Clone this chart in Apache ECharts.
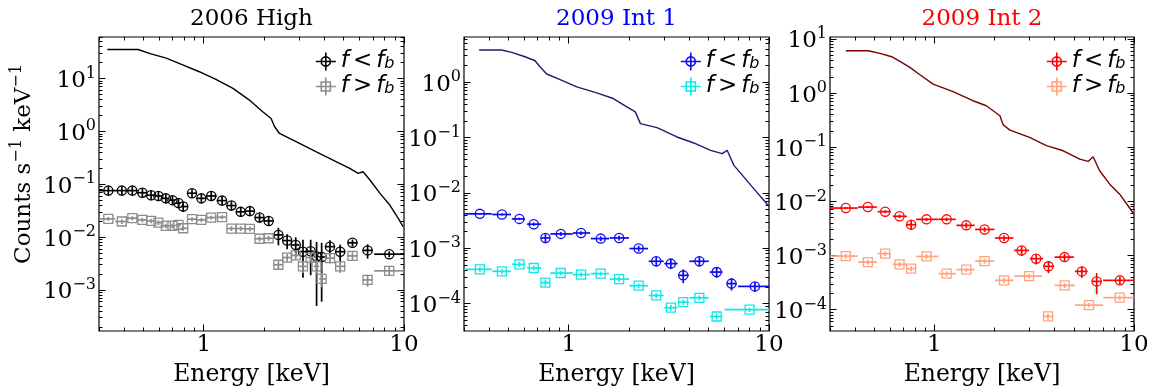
<!DOCTYPE html>
<html><head><meta charset="utf-8">
<script src="https://cdn.jsdelivr.net/npm/echarts@6/dist/echarts.min.js"></script>
<style>html,body{margin:0;padding:0;background:#fff}#c{width:1165px;height:391px}</style>
</head><body><div id="c"></div>
<script>
// ---------------- data ----------------
const PANEL_TITLES = ['2006 High', '2009 Int 1', '2009 Int 2'];
const X_TICKS = [1, 10];
const Y_TICKS_A = [1e-3, 1e-2, 1e-1, 1, 10];
const Y_TICKS_B = [1e-4, 1e-3, 1e-2, 1e-1, 1];
const Y_TICKS_C = [1e-4, 1e-3, 1e-2, 1e-1, 1, 10];
const X_LABEL = 'Energy [keV]';

// 2006 High : energy bins (centre, low edge, high edge) in keV
const A_E  = [0.334,0.39,0.44,0.494,0.546,0.594,0.647,0.698,0.748,0.79,0.874,0.973,1.09,1.235,1.375,1.53,1.70,1.90,2.11,2.36,2.61,2.88,3.13,3.42,3.66,3.88,4.27,4.8,5.53,6.58,8.44];
const A_LO = [0.3,0.361,0.414,0.466,0.519,0.569,0.62,0.672,0.723,0.769,0.831,0.922,1.03,1.16,1.303,1.45,1.613,1.797,2.0,2.23,2.48,2.74,3.0,3.27,3.54,3.77,4.07,4.53,5.22,6.2,7.1];
const A_HI = [0.361,0.414,0.466,0.519,0.569,0.62,0.672,0.723,0.769,0.831,0.922,1.03,1.16,1.303,1.45,1.613,1.797,2.0,2.23,2.48,2.74,3.0,3.27,3.54,3.77,4.07,4.53,5.1,5.86,6.97,10];
const A_LOWF_Y   = [0.0757,0.0757,0.0757,0.069,0.062,0.060,0.054,0.050,0.044,0.0378,0.0676,0.054,0.060,0.049,0.0395,0.030,0.031,0.0234,0.0202,0.011,0.0086,0.0071,0.0053,0.0054,0.0043,0.0042,0.0066,0.0053,0.0078,0.0056,0.00475];
const A_LOWF_ERR = [0.015,0.015,0.015,0.014,0.012,0.012,0.011,0.010,0.009,0.008,0.013,0.011,0.012,0.010,0.008,0.006,0.0062,0.0047,0.004,0.004,0.0027,0.0028,0.0036,0.0035,0.0038,0.0036,0.0021,0.0019,0.0012,0.0017,0.0006];
const A_HIGHF_Y   = [0.0221,0.0197,0.0228,0.0211,0.0202,0.0188,0.0163,0.0163,0.017,0.0147,0.0218,0.0211,0.0234,0.0238,0.0145,0.0145,0.0143,0.0093,0.0095,0.0030,0.0041,0.0045,0.0028,0.0041,0.0028,0.00162,0.0040,0.0028,0.0044,0.00155,0.0023];
const A_HIGHF_ERR = [0.002,0.002,0.002,0.002,0.002,0.002,0.0017,0.0017,0.0017,0.0015,0.002,0.002,0.002,0.002,0.0015,0.0015,0.0015,0.001,0.001,0.0005,0.0007,0.0008,0.0007,0.0009,0.0008,0.0005,0.0008,0.0007,0.0008,0.0004,0.0004];
const A_MODEL_E = [0.33,0.47,0.54,0.65,0.78,0.95,1.15,1.40,1.69,1.97,2.17,2.26,2.39,3.01,3.65,4.42,5.36,5.9,6.25,6.76,7.59,8.51,9.36,9.9];
const A_MODEL_Y = [35.3,35.3,29.5,24.3,18.2,13.4,9.6,6.5,3.9,2.34,1.75,1.22,0.91,0.59,0.41,0.286,0.199,0.16,0.172,0.12,0.067,0.04,0.0226,0.0157];

// 2009 intermediate states : f < f_b bins
const INT_E  = [0.36,0.464,0.567,0.669,0.765,0.913,1.152,1.445,1.785,2.235,2.735,3.235,3.73,4.49,5.48,6.5,8.5];
const INT_LO = [0.3,0.415,0.52,0.62,0.728,0.81,1.05,1.29,1.6,2.01,2.51,3.0,3.51,4.0,5.06,6.15,7.0];
const INT_HI = [0.413,0.515,0.605,0.728,0.808,1.048,1.28,1.59,2.0,2.49,2.98,3.5,3.98,5.0,5.86,6.89,10];

// 2009 Int 1
const B_LOWF_Y   = [0.00417,0.00406,0.00338,0.00271,0.00153,0.00181,0.00188,0.00149,0.00153,0.000984,0.00058,0.000526,0.000323,0.00058,0.00037,0.000229,0.000204];
const B_LOWF_ERR = [0.000125,0.00016,0.00017,0.00019,0.0003,0.000145,0.00015,0.00015,0.000153,0.000118,0.000116,0.000105,0.00009,0.000116,0.000081,0.000057,0.000041];
const B_HIGHF_E  = [0.36,0.464,0.567,0.669,0.765,0.913,1.152,1.445,1.785,2.235,2.735,3.235,3.73,4.49,5.48,8.0];
const B_HIGHF_LO = [0.3,0.415,0.52,0.62,0.728,0.81,1.05,1.29,1.6,2.01,2.51,3.0,3.51,4.0,5.06,6.0];
const B_HIGHF_HI = [0.413,0.515,0.605,0.728,0.808,1.048,1.28,1.59,2.0,2.49,2.98,3.5,3.98,5.0,5.86,10];
const B_HIGHF_Y   = [0.000415,0.000382,0.00051,0.000438,0.000238,0.000356,0.000333,0.000347,0.000277,0.00021,0.00014,0.000084,0.000106,0.000127,0.0000583,0.0000773];
const B_HIGHF_ERR = [0.00004,0.00004,0.00005,0.00004,0.00003,0.00003,0.00003,0.00003,0.00003,0.00002,0.000015,0.00001,0.000012,0.000013,0.000007,0.000007];
const B_MODEL_E = [0.357,0.462,0.519,0.605,0.679,0.719,0.776,0.906,1.097,1.38,1.67,1.95,2.15,2.28,2.76,3.47,4.21,5.11,5.84,6.18,6.68,7.5,8.41,9.44,9.9];
const B_MODEL_Y = [3.8,3.8,3.44,2.87,2.43,1.89,1.40,1.11,0.822,0.64,0.505,0.357,0.29,0.178,0.151,0.102,0.0795,0.0586,0.0509,0.0586,0.0313,0.0192,0.0118,0.00728,0.0059];

// 2009 Int 2
const C_LOWF_Y   = [0.00752,0.00785,0.00645,0.00529,0.00371,0.00465,0.00465,0.0036,0.00303,0.0021,0.00124,0.000872,0.00063,0.000933,0.000508,0.000332,0.000347];
const C_LOWF_ERR = [0.0003,0.00031,0.00039,0.00042,0.00074,0.00033,0.00033,0.00043,0.0003,0.00025,0.00025,0.00019,0.00016,0.00014,0.00012,0.00014,0.000052];
const C_HIGHF_E  = [0.36,0.464,0.567,0.669,0.765,0.913,1.152,1.445,1.785,2.235,2.98,3.71,4.5,5.95,8.48];
const C_HIGHF_LO = [0.3,0.415,0.52,0.62,0.728,0.81,1.05,1.29,1.6,2.01,2.51,3.5,4.0,5.06,7.0];
const C_HIGHF_HI = [0.413,0.515,0.605,0.728,0.808,1.048,1.28,1.59,2.0,2.49,3.47,3.96,5.06,7.0,10];
const C_HIGHF_Y   = [0.000975,0.000755,0.00108,0.000686,0.00057,0.00096,0.000461,0.000547,0.000788,0.000347,0.000416,0.0000748,0.00028,0.000121,0.000166];
const C_HIGHF_ERR = [0.0001,0.00008,0.0001,0.00007,0.00006,0.0001,0.00005,0.00005,0.00008,0.00004,0.00004,0.00001,0.00003,0.000012,0.000017];
const C_MODEL_E = [0.36,0.466,0.534,0.611,0.672,0.754,0.846,0.986,1.24,1.56,1.82,2.13,2.21,2.39,3.0,3.64,4.42,5.35,5.89,6.24,6.73,7.56,8.48,9.33,9.97];
const C_MODEL_Y = [6.08,6.08,5.42,4.71,3.85,2.99,2.19,1.47,1.07,0.724,0.585,0.382,0.26,0.207,0.152,0.107,0.086,0.0603,0.0547,0.0667,0.0368,0.0208,0.0136,0.0083,0.0058];

// ---------------- chart ----------------
const SERIF = 'DejaVu Serif';
const SANS = 'DejaVu Sans';
const FS = 23;      // tick labels / titles
const FS_SUP = 16;  // exponents

function rows(E, lo, hi, y, err) { return E.map((e, i) => [e, lo[i], hi[i], y[i], err[i]]); }
function pairs(E, y) { return E.map((e, i) => [e, y[i]]); }

const panels = [
  { title: PANEL_TITLES[0], titleColor: '#000000', yMin: 1.675e-4, yMax: 60.8, yTicks: Y_TICKS_A,
    model: pairs(A_MODEL_E, A_MODEL_Y), modelColor: '#000000',
    low: rows(A_E, A_LO, A_HI, A_LOWF_Y, A_LOWF_ERR), lowColor: '#000000',
    high: rows(A_E, A_LO, A_HI, A_HIGHF_Y, A_HIGHF_ERR), highColor: '#8c8c8c' },
  { title: PANEL_TITLES[1], titleColor: '#0000ff', yMin: 3.19e-5, yMax: 6.53, yTicks: Y_TICKS_B,
    model: pairs(B_MODEL_E, B_MODEL_Y), modelColor: '#1c1c6e',
    low: rows(INT_E, INT_LO, INT_HI, B_LOWF_Y, B_LOWF_ERR), lowColor: '#0a0af0',
    high: rows(B_HIGHF_E, B_HIGHF_LO, B_HIGHF_HI, B_HIGHF_Y, B_HIGHF_ERR), highColor: '#10e8e8' },
  { title: PANEL_TITLES[2], titleColor: '#ff0000', yMin: 4.02e-5, yMax: 10.9, yTicks: Y_TICKS_C,
    model: pairs(C_MODEL_E, C_MODEL_Y), modelColor: '#7a0000',
    low: rows(INT_E, INT_LO, INT_HI, C_LOWF_Y, C_LOWF_ERR), lowColor: '#ff0000',
    high: rows(C_HIGHF_E, C_HIGHF_LO, C_HIGHF_HI, C_HIGHF_Y, C_HIGHF_ERR), highColor: '#ffa27e' }
];

const GRIDS = [
  { left: 99, top: 37, width: 305, height: 294 },
  { left: 464, top: 37, width: 305, height: 294 },
  { left: 830, top: 37, width: 304, height: 294 }
];

function minorList(min, max) {
  const out = [];
  for (let d = -6; d <= 2; d++) for (let k = 2; k <= 9; k++) {
    const v = k * Math.pow(10, d);
    if (v > min && v < max) out.push(v);
  }
  return out;
}

const supRich = {
  b: { fontFamily: SERIF, fontSize: FS, lineHeight: 31, color: '#000' },
  s: { fontFamily: SERIF, fontSize: FS_SUP, lineHeight: 12, verticalAlign: 'top', color: '#000' }
};

function baseAxis(gi, min, max, pos, ticks, len) {
  return {
    type: 'log', logBase: 10, gridIndex: gi, min: min, max: max, position: pos,
    axisLine: { show: false, onZero: false },
    splitLine: { show: false }, minorTick: { show: false }, minorSplitLine: { show: false },
    axisTick: { show: true, inside: true, length: len, customValues: ticks, lineStyle: { color: '#000', width: 1 } },
    axisLabel: { show: false }
  };
}

const xAxes = [], yAxes = [], series = [], legends = [];
const MAJ = 6.5, MIN = 3.5;

panels.forEach((p, g) => {
  const xMin = 0.3, xMax = 10;
  const xMinor = minorList(xMin, xMax);
  const yMinor = minorList(p.yMin, p.yMax);

  // x axes
  const xm = baseAxis(g, xMin, xMax, 'bottom', X_TICKS, MAJ);
  xm.axisLabel = { show: true, customValues: X_TICKS, margin: 3, fontFamily: SERIF, fontSize: FS, color: '#000',
    formatter: v => String(Math.round(v)) };
  xm.name = X_LABEL; xm.nameLocation = 'middle'; xm.nameGap = 32;
  xm.nameTextStyle = { fontFamily: SERIF, fontSize: 23.5, color: '#000' };
  const xt = baseAxis(g, xMin, xMax, 'top', X_TICKS, MAJ);
  xt.name = p.title; xt.nameLocation = 'middle'; xt.nameGap = 6;
  xt.nameTextStyle = { fontFamily: SERIF, fontSize: FS, color: p.titleColor };
  xAxes.push(xm, baseAxis(g, xMin, xMax, 'bottom', xMinor, MIN), xt, baseAxis(g, xMin, xMax, 'top', xMinor, MIN));

  // y axes
  const ym = baseAxis(g, p.yMin, p.yMax, 'left', p.yTicks, MAJ);
  ym.axisLabel = { show: true, customValues: p.yTicks, margin: 3, padding: [5, 0, 0, 0],
    formatter: v => { const n = Math.round(Math.log10(v)); return '{b|10}{s|' + (n < 0 ? '\u2212' + (-n) : n) + '}'; },
    rich: supRich };
  if (g === 0) {
    ym.name = 'Counts s{s|\u22121} keV{s|\u22121}';
    ym.nameLocation = 'middle'; ym.nameRotate = 90; ym.nameGap = 60;
    ym.nameTextStyle = { fontFamily: SERIF, fontSize: FS, color: '#000', lineHeight: 30, padding: [0, 0, 0, 40],
      rich: { s: { fontFamily: SERIF, fontSize: FS_SUP, lineHeight: 12, verticalAlign: 'top', color: '#000' } } };
  }
  yAxes.push(ym, baseAxis(g, p.yMin, p.yMax, 'left', yMinor, MIN),
    baseAxis(g, p.yMin, p.yMax, 'right', p.yTicks, MAJ), baseAxis(g, p.yMin, p.yMax, 'right', yMinor, MIN));

  const xi = 4 * g, yi = 4 * g;
  series.push({
    type: 'line', name: 'model' + g, xAxisIndex: xi, yAxisIndex: yi, data: p.model,
    showSymbol: false, symbol: 'none', clip: true, silent: true,
    lineStyle: { color: p.modelColor, width: 1.4 }, z: 2
  });
  const mk = (name, data, color, shape) => ({
    type: 'custom', name: name, xAxisIndex: xi, yAxisIndex: yi, data: data, clip: true,
    encode: { x: 0, y: 3 }, itemStyle: { color: color }, z: 3,
    renderItem: (params, api) => {
      const E = api.value(0), lo = api.value(1), hi = api.value(2), y = api.value(3), s = api.value(4);
      const cs = params.coordSys;
      const bottom = cs.y + cs.height;
      const c = api.coord([E, y]);
      const l = api.coord([lo, y]);
      const r = api.coord([hi, y]);
      const t = api.coord([E, y + s]);
      let by = (y - s) > 0 ? api.coord([E, y - s])[1] : bottom;
      by = Math.min(by, bottom);
      const ls = { stroke: color, lineWidth: 1.7, fill: 'none' };
      const kids = [
        { type: 'line', shape: { x1: l[0], y1: c[1], x2: r[0], y2: c[1] }, style: ls },
        { type: 'line', shape: { x1: c[0], y1: t[1], x2: c[0], y2: by }, style: ls }
      ];
      if (shape === 'circle') kids.push({ type: 'circle', shape: { cx: c[0], cy: c[1], r: 4.6 }, style: { fill: 'none', stroke: color, lineWidth: 1.3 } });
      else kids.push({ type: 'rect', shape: { x: c[0] - 4.5, y: c[1] - 4.5, width: 9, height: 9 }, style: { fill: 'none', stroke: color, lineWidth: 1.3 } });
      return { type: 'group', children: kids };
    }
  });
  const loName = 'lo' + g, hiName = 'hi' + g;
  series.push(mk(loName, p.low, p.lowColor, 'circle'));
  series.push(mk(hiName, p.high, p.highColor, 'square'));

  legends.push({
    left: GRIDS[g].left + 216, top: 50, orient: 'vertical', padding: 0, itemGap: 2,
    itemWidth: 20, itemHeight: 18, selectedMode: false,
    data: [
      { name: loName, icon: 'path://M0 9H20M10 0V18M14.6 9A4.6 4.6 0 1 1 5.4 9A4.6 4.6 0 1 1 14.6 9Z',
        itemStyle: { color: 'rgba(0,0,0,0)', borderColor: p.lowColor, borderWidth: 1.6 } },
      { name: hiName, icon: 'path://M0 9H20M10 0V18M5.5 4.5H14.5V13.5H5.5Z',
        itemStyle: { color: 'rgba(0,0,0,0)', borderColor: p.highColor, borderWidth: 1.6 } }
    ],
    formatter: name => name.indexOf('lo') === 0 ? '{i|f}{o|<}{i|f}{s|b}' : '{i|f}{o|>}{i|f}{s|b}',
    textStyle: { color: '#000', fontFamily: SANS, fontSize: 23, lineHeight: 20,
      rich: {
        i: { fontFamily: SANS, fontStyle: 'italic', fontSize: 23, lineHeight: 20, color: '#000' },
        o: { fontFamily: SANS, fontSize: 23, lineHeight: 20, padding: [0, 4, 0, 4], color: '#000' },
        s: { fontFamily: SANS, fontStyle: 'italic', fontSize: 16, lineHeight: 10, verticalAlign: 'bottom', color: '#000' }
      } }
  });
});

const chart = echarts.init(document.getElementById('c'), null, { renderer: 'canvas' });
chart.setOption({
  animation: false,
  backgroundColor: '#ffffff',
  grid: GRIDS.map(gr => Object.assign({ show: true, borderColor: '#000', borderWidth: 1.2, backgroundColor: 'transparent',
    containLabel: false, outerBoundsMode: 'none' }, gr)),
  xAxis: xAxes,
  yAxis: yAxes,
  legend: legends,
  series: series
});
</script></body></html>
